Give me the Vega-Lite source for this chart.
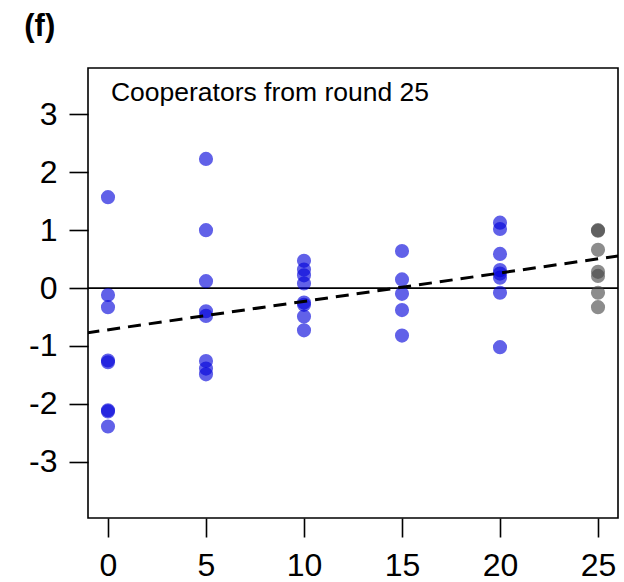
{
  "$schema": "https://vega.github.io/schema/vega-lite/v6.json",
  "width": 530,
  "height": 450,
  "autosize": {"type": "none"},
  "padding": {"left": 88, "top": 68, "right": 6, "bottom": 64},
  "background": "white",
  "config": {
    "view": {"stroke": "black", "strokeWidth": 1.6},
    "font": "Liberation Sans",
    "axis": {
      "domain": false,
      "grid": false,
      "tickColor": "black",
      "tickWidth": 1.6,
      "tickSize": 19,
      "labelColor": "black",
      "labelFont": "Liberation Sans",
      "labelFontSize": 32,
      "labelExpr": "datum.value < 0 ? '-' + abs(datum.value) : '' + datum.value",
      "title": null
    }
  },
  "datasets": {
    "points": [
      {"round": 0, "value": 1.57, "group": "before"},
      {"round": 0, "value": -0.12, "group": "before"},
      {"round": 0, "value": -0.33, "group": "before"},
      {"round": 0, "value": -1.25, "group": "before"},
      {"round": 0, "value": -1.28, "group": "before"},
      {"round": 0, "value": -2.11, "group": "before"},
      {"round": 0, "value": -2.13, "group": "before"},
      {"round": 0, "value": -2.39, "group": "before"},
      {"round": 5, "value": 2.23, "group": "before"},
      {"round": 5, "value": 1.0, "group": "before"},
      {"round": 5, "value": 0.12, "group": "before"},
      {"round": 5, "value": -0.40, "group": "before"},
      {"round": 5, "value": -0.48, "group": "before"},
      {"round": 5, "value": -1.26, "group": "before"},
      {"round": 5, "value": -1.39, "group": "before"},
      {"round": 5, "value": -1.49, "group": "before"},
      {"round": 10, "value": 0.47, "group": "before"},
      {"round": 10, "value": 0.32, "group": "before"},
      {"round": 10, "value": 0.22, "group": "before"},
      {"round": 10, "value": 0.08, "group": "before"},
      {"round": 10, "value": -0.25, "group": "before"},
      {"round": 10, "value": -0.29, "group": "before"},
      {"round": 10, "value": -0.49, "group": "before"},
      {"round": 10, "value": -0.73, "group": "before"},
      {"round": 15, "value": 0.64, "group": "before"},
      {"round": 15, "value": 0.15, "group": "before"},
      {"round": 15, "value": -0.10, "group": "before"},
      {"round": 15, "value": -0.38, "group": "before"},
      {"round": 15, "value": -0.82, "group": "before"},
      {"round": 20, "value": 1.13, "group": "before"},
      {"round": 20, "value": 1.02, "group": "before"},
      {"round": 20, "value": 0.59, "group": "before"},
      {"round": 20, "value": 0.31, "group": "before"},
      {"round": 20, "value": 0.25, "group": "before"},
      {"round": 20, "value": 0.18, "group": "before"},
      {"round": 20, "value": -0.08, "group": "before"},
      {"round": 20, "value": -1.02, "group": "before"},
      {"round": 25, "value": 1.0, "group": "final"},
      {"round": 25, "value": 0.99, "group": "final"},
      {"round": 25, "value": 0.66, "group": "final"},
      {"round": 25, "value": 0.28, "group": "final"},
      {"round": 25, "value": 0.21, "group": "final"},
      {"round": 25, "value": -0.08, "group": "final"},
      {"round": 25, "value": -0.33, "group": "final"}
    ],
    "fit": [
      {"round": -1.1, "value": -0.774},
      {"round": 26.1, "value": 0.559}
    ],
    "one": [{}]
  },
  "layer": [
    {
      "data": {"name": "one"},
      "mark": {"type": "rule", "color": "black", "strokeWidth": 1.6},
      "encoding": {"y": {"datum": 0, "type": "quantitative", "scale": {"domain": [-3.97, 3.8], "nice": false, "zero": false}}}
    },
    {
      "data": {"name": "points"},
      "mark": {"type": "circle", "size": 200, "opacity": 0.62, "strokeWidth": 0},
      "encoding": {
        "x": {
          "field": "round",
          "type": "quantitative",
          "scale": {"domain": [-1.02, 26.02], "nice": false, "zero": false},
          "axis": {"values": [0, 5, 10, 15, 20, 25], "labelPadding": 13}
        },
        "y": {
          "field": "value",
          "type": "quantitative",
          "scale": {"domain": [-3.97, 3.8], "nice": false, "zero": false},
          "axis": {"values": [-3, -2, -1, 0, 1, 2, 3], "labelPadding": 12}
        },
        "color": {
          "field": "group",
          "type": "nominal",
          "scale": {"domain": ["before", "final"], "range": ["#0000DA", "#464646"]},
          "legend": null
        }
      }
    },
    {
      "data": {"name": "fit"},
      "mark": {"type": "line", "color": "black", "strokeWidth": 3, "strokeDash": [13, 8], "clip": true},
      "encoding": {
        "x": {"field": "round", "type": "quantitative"},
        "y": {"field": "value", "type": "quantitative"}
      }
    },
    {
      "data": {"name": "one"},
      "mark": {"type": "text", "align": "left", "baseline": "alphabetic", "fontSize": 26.5, "font": "Liberation Sans", "color": "black"},
      "encoding": {
        "x": {"datum": 0.15, "type": "quantitative"},
        "y": {"datum": 3.23, "type": "quantitative"},
        "text": {"value": "Cooperators from round 25"}
      }
    },
    {
      "data": {"name": "one"},
      "mark": {"type": "text", "align": "left", "baseline": "alphabetic", "fontSize": 31, "fontWeight": "bold", "font": "Liberation Sans", "color": "black", "clip": false},
      "encoding": {
        "x": {"datum": -4.27, "type": "quantitative"},
        "y": {"datum": 4.36, "type": "quantitative"},
        "text": {"value": "(f)"}
      }
    }
  ]
}
